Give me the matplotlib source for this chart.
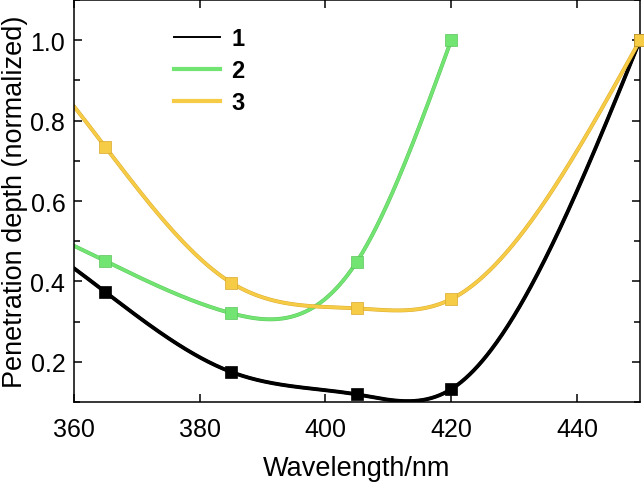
import numpy as np
import matplotlib
matplotlib.use("Agg")
import matplotlib.pyplot as plt
from matplotlib.lines import Line2D
import matplotlib.patheffects as pe

plt.rcParams['font.family'] = ['Liberation Sans', 'DejaVu Sans']

# Data
x1 = [365, 385, 405, 420, 450]
y1 = [0.374, 0.175, 0.119, 0.132, 1.0]
x2 = [365, 385, 405, 420]
y2 = [0.451, 0.321, 0.449, 1.0]
x3 = [365, 385, 405, 420, 450]
y3 = [0.735, 0.397, 0.333, 0.356, 1.0]
labels = ["1", "2", "3"]
colors = ["#000000", "#72e472", "#f6cb45"]
edge_colors = ["#000000", "#5cc45c", "#d9a92e"]
x_start = 360


def natural_spline(x, y, xs):
    x = np.asarray(x, float); y = np.asarray(y, float)
    n = len(x); h = np.diff(x)
    A = np.zeros((n, n)); b = np.zeros(n)
    A[0, 0] = 1; A[-1, -1] = 1
    for i in range(1, n - 1):
        A[i, i - 1] = h[i - 1]
        A[i, i] = 2 * (h[i - 1] + h[i])
        A[i, i + 1] = h[i]
        b[i] = 3 * ((y[i + 1] - y[i]) / h[i] - (y[i] - y[i - 1]) / h[i - 1])
    c = np.linalg.solve(A, b)
    bb = (y[1:] - y[:-1]) / h - h * (2 * c[:-1] + c[1:]) / 3
    d = (c[1:] - c[:-1]) / (3 * h)
    idx = np.clip(np.searchsorted(x, xs) - 1, 0, n - 2)
    dx = xs - x[idx]
    return y[idx] + bb[idx] * dx + c[idx] * dx ** 2 + d[idx] * dx ** 3


fig = plt.figure(figsize=(6.44, 4.85), dpi=100)
ax = fig.add_axes([0.1144, 0.169, 0.8794, 0.829])

series = [(x1, y1), (x2, y2), (x3, y3)]
for (xs, ys), col, ec in zip(series, colors, edge_colors):
    xx = np.linspace(x_start, xs[-1], 400)
    yy = natural_spline(xs, ys, xx)
    ax.plot(xx, yy, color=col, lw=2.2, solid_capstyle='round',
            path_effects=[pe.Stroke(linewidth=2.8, foreground=ec), pe.Normal()],
            clip_on=True)
    ax.plot(xs, ys, 's', color=col, markersize=8, markeredgecolor=ec,
            markeredgewidth=0.5, clip_on=False, zorder=5)

ax.set_xlim(360, 450)
ax.set_ylim(0.1, 1.1)
ax.set_xticks([360, 380, 400, 420, 440])
ax.set_yticks([0.2, 0.4, 0.6, 0.8, 1.0])
ax.set_yticks(np.arange(0.1, 1.11, 0.1), minor=True)
ax.set_yticklabels(["0.2", "0.4", "0.6", "0.8", "1.0"])
ax.tick_params(axis='both', which='both', direction='in', top=True, right=True,
               labelsize=18, width=1.1)
ax.tick_params(axis='both', which='major', length=6)
ax.tick_params(axis='both', which='minor', length=4)
ax.tick_params(axis='x', pad=11)
ax.tick_params(axis='y', pad=6)
for s in ax.spines.values():
    s.set_linewidth(1.1)

ax.set_xlabel("Wavelength/nm", fontsize=19.5, labelpad=10)
ax.set_ylabel("Penetration depth (normalized)", fontsize=19.5, labelpad=2)

handles = [Line2D([], [], color=colors[0], lw=1.4),
           Line2D([], [], color=colors[1], lw=3),
           Line2D([], [], color=colors[2], lw=3)]
leg = ax.legend(handles, labels, loc='upper left', bbox_to_anchor=(0.139, 0.985),
                frameon=False, handlelength=1.95, handletextpad=0.5,
                labelspacing=0.38, prop={'size': 17, 'weight': 'bold'})

fig.savefig("out.png", dpi=100)
